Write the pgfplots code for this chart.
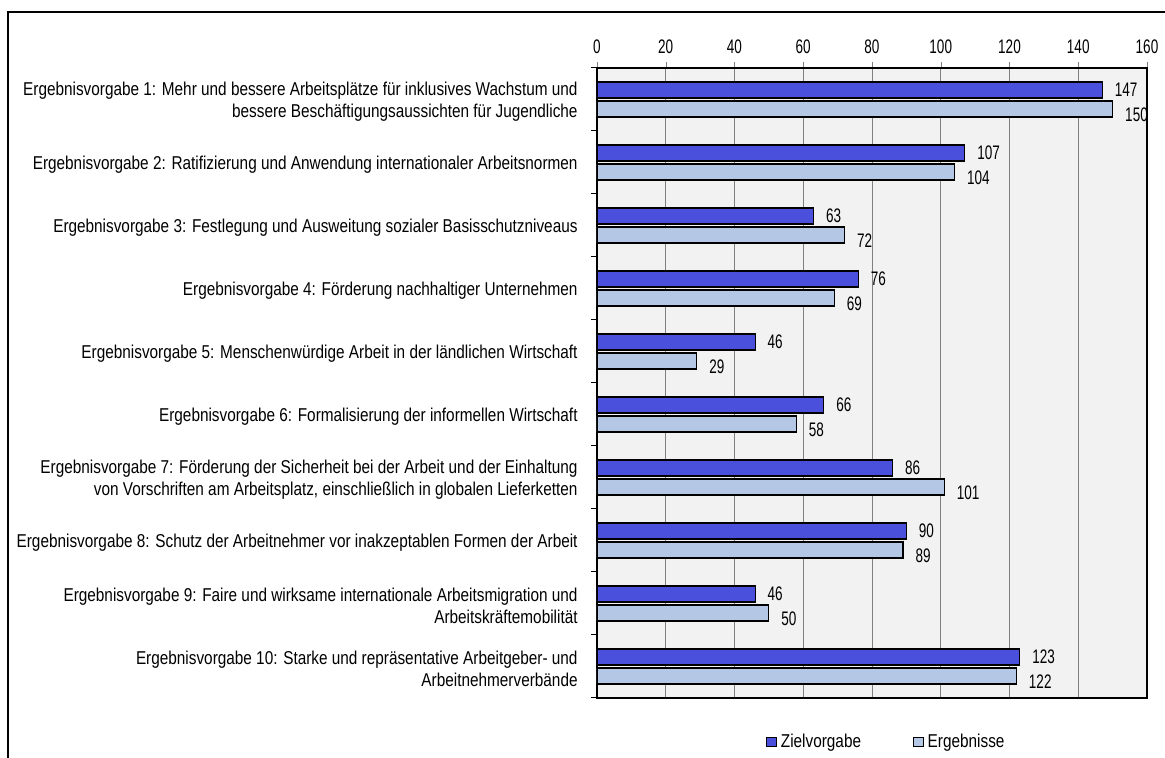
\documentclass[border=0pt]{standalone}
\usepackage{pgfplots}
\pgfplotsset{compat=1.18}
\usepackage{fontspec}
\setmainfont[FakeStretch=0.825]{Liberation Sans}
\newfontfamily\numfont[FakeStretch=0.69]{Liberation Sans}
\definecolor{ziel}{RGB}{75,80,220}
\definecolor{erg}{RGB}{180,200,230}
\definecolor{bg}{RGB}{242,242,242}
\definecolor{gridc}{RGB}{128,128,128}
\newcommand{\chartfont}{\fontsize{9.3}{11}\selectfont}
\newcommand{\numsize}{\numfont\fontsize{9.8}{11}\selectfont}
\begin{document}
\begin{tikzpicture}
\path[use as bounding box] (-298.5pt,-30pt) rectangle (284pt,349pt);
\draw[line width=0.7pt] (-294.5pt,-40pt) -- (-294.5pt,343pt) -- (290pt,343pt);
\begin{axis}[
  xbar,
  scale only axis,
  width=275pt, height=315pt,
  at={(0,0)}, anchor=south west,
  xmin=0, xmax=160,
  ymin=0.5, ymax=10.5,
  xtick={0,20,...,160},
  xtick pos=upper, xticklabel pos=upper,
  ytick={1,...,10},
  ytick pos=lower,
  minor ytick={0.5,1.5,...,10.5},
  major y tick style={draw=none},
  minor y tick style={draw=black, line width=0.5pt},
  tick align=outside,
  major tick length=3pt, minor tick length=3pt,
  xmajorgrids=true,
  major x grid style={gridc, line width=0.5pt},
  axis background/.style={fill=bg},
  axis line style={black, line width=0.6pt},
  tick label style={font=\chartfont},
  /pgf/number format/assume math mode=true,
  yticklabel style={align=right, inner sep=0pt, xshift=-6.5pt, yshift=-1pt},
  xticklabel style={font=\numsize, yshift=0.5pt},
  yticklabels={
    {Ergebnisvorgabe 10: Starke und repräsentative Arbeitgeber- und\\Arbeitnehmerverbände},
    {Ergebnisvorgabe 9: Faire und wirksame internationale Arbeitsmigration und\\Arbeitskräftemobilität},
    {Ergebnisvorgabe 8: Schutz der Arbeitnehmer vor inakzeptablen Formen der Arbeit},
    {Ergebnisvorgabe 7: Förderung der Sicherheit bei der Arbeit und der Einhaltung\\von Vorschriften am Arbeitsplatz, einschließlich in globalen Lieferketten},
    {Ergebnisvorgabe 6: Formalisierung der informellen Wirtschaft},
    {Ergebnisvorgabe 5: Menschenwürdige Arbeit in der ländlichen Wirtschaft},
    {Ergebnisvorgabe 4: Förderung nachhaltiger Unternehmen},
    {Ergebnisvorgabe 3: Festlegung und Ausweitung sozialer Basisschutzniveaus},
    {Ergebnisvorgabe 2: Ratifizierung und Anwendung internationaler Arbeitsnormen},
    {Ergebnisvorgabe 1: Mehr und bessere Arbeitsplätze für inklusives Wachstum und\\bessere Beschäftigungsaussichten für Jugendliche}
  },
  bar width=8pt,
  nodes near coords,
  every node near coord/.append style={font=\numsize, anchor=west, inner sep=0pt, xshift=6pt},
  legend style={at={(0.528,0)}, anchor=center, yshift=-22pt, draw=none, fill=none,
    font=\chartfont, legend columns=2,
    /tikz/every even column/.append style={column sep=24pt}},
  legend image code/.code={\draw[#1, line width=0.5pt] (0pt,-2.4pt) rectangle (4.8pt,2.4pt);},
]
\addplot[fill=ziel, draw=black, line width=0.6pt, bar shift=4.75pt] coordinates {
  (147,10) (107,9) (63,8) (76,7) (46,6) (66,5) (86,4) (90,3) (46,2) (123,1)};
\addlegendentry{Zielvorgabe}
\addplot[fill=erg, draw=black, line width=0.6pt, bar shift=-4.75pt,
  every node near coord/.append style={yshift=-3pt}] coordinates {
  (150,10) (104,9) (72,8) (69,7) (29,6) (58,5) (101,4) (89,3) (50,2) (122,1)};
\addlegendentry{Ergebnisse}
\end{axis}
\end{tikzpicture}
\end{document}
